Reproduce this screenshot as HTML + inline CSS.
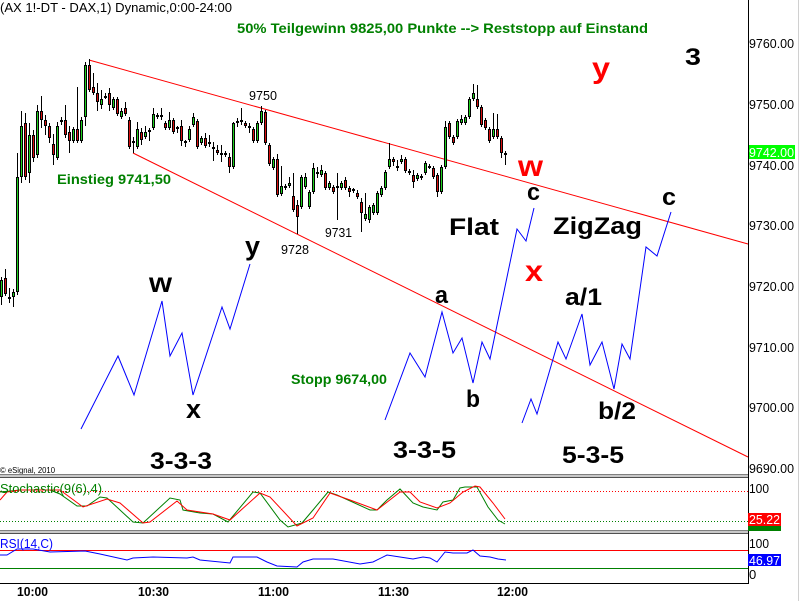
<!DOCTYPE html>
<html>
<head>
<meta charset="utf-8">
<style>
html,body{margin:0;padding:0;background:#fff;}
svg{display:block;}
text{font-family:"Liberation Sans",Arial,sans-serif;}
.b{font-weight:bold;}
</style>
</head>
<body>
<svg id="s" width="799" height="601" viewBox="0 0 799 601" xmlns="http://www.w3.org/2000/svg">
<rect x="0" y="0" width="799" height="601" fill="#fff"/>

<!-- right light border -->
<line x1="798.5" y1="0" x2="798.5" y2="601" stroke="#d0d0d0" stroke-width="1"/>

<!-- title -->
<text x="0" y="12" font-size="13" textLength="232" lengthAdjust="spacingAndGlyphs">(AX 1!-DT - DAX,1) Dynamic,0:00-24:00</text>
<text x="237" y="33" font-size="14" class="b" fill="#008000" textLength="411" lengthAdjust="spacingAndGlyphs">50% Teilgewinn 9825,00 Punkte --&gt; Reststopp auf Einstand</text>

<!-- trend lines -->
<line x1="89" y1="60" x2="748" y2="244" stroke="#ff0000" stroke-width="1"/>
<line x1="133" y1="153" x2="748" y2="457" stroke="#ff0000" stroke-width="1"/>

<g id="candles"></g>

<!-- blue waves -->
<polyline fill="none" stroke="#0000ff" stroke-width="1" points="81,429 118,356 134,395 162,301 170,356 182,333 193,395 222,307 230,329 250,264"/>
<polyline fill="none" stroke="#0000ff" stroke-width="1" points="385,420 410,353 425,377 442,312 453,353 462,338 473,383 482,342 490,359 517,229 526,241 534,208"/>
<polyline fill="none" stroke="#0000ff" stroke-width="1" points="522,423 531,399 537,414 558,342 566,359 582,314 590,365 602,342 614,389 622,344 630,359 646,247 657,256 671,212"/>

<!-- small price labels -->
<text x="249" y="100" font-size="13" textLength="28" lengthAdjust="spacingAndGlyphs">9750</text>
<text x="281" y="254" font-size="13" textLength="28" lengthAdjust="spacingAndGlyphs">9728</text>
<text x="325" y="237" font-size="13" textLength="27" lengthAdjust="spacingAndGlyphs">9731</text>

<text x="57" y="184" font-size="14" class="b" fill="#008000" textLength="114" lengthAdjust="spacingAndGlyphs">Einstieg 9741,50</text>
<text x="291" y="384" font-size="14" class="b" fill="#008000" textLength="96" lengthAdjust="spacingAndGlyphs">Stopp 9674,00</text>

<!-- big labels -->
<text x="685" y="65" font-size="24" class="b" textLength="16" lengthAdjust="spacingAndGlyphs">3</text>
<text x="592" y="78" font-size="30" class="b" fill="#ff0000" textLength="18" lengthAdjust="spacingAndGlyphs">y</text>
<text x="518" y="176" font-size="30" class="b" fill="#ff0000" textLength="25" lengthAdjust="spacingAndGlyphs">w</text>
<text x="525" y="281" font-size="30" class="b" fill="#ff0000" textLength="18" lengthAdjust="spacingAndGlyphs">x</text>
<text x="527" y="200" font-size="24" class="b" textLength="13" lengthAdjust="spacingAndGlyphs">c</text>
<text x="662" y="205" font-size="24" class="b" textLength="14" lengthAdjust="spacingAndGlyphs">c</text>
<text x="449" y="235" font-size="24" class="b" textLength="50" lengthAdjust="spacingAndGlyphs">Flat</text>
<text x="553" y="234" font-size="24" class="b" textLength="89" lengthAdjust="spacingAndGlyphs">ZigZag</text>
<text x="435" y="303" font-size="24" class="b" textLength="13" lengthAdjust="spacingAndGlyphs">a</text>
<text x="466" y="407" font-size="24" class="b" textLength="14" lengthAdjust="spacingAndGlyphs">b</text>
<text x="565" y="305" font-size="24" class="b" textLength="37" lengthAdjust="spacingAndGlyphs">a/1</text>
<text x="598" y="419" font-size="24" class="b" textLength="38" lengthAdjust="spacingAndGlyphs">b/2</text>
<text x="149" y="292" font-size="28" class="b" textLength="23" lengthAdjust="spacingAndGlyphs">w</text>
<text x="186" y="418" font-size="27" class="b" textLength="15" lengthAdjust="spacingAndGlyphs">x</text>
<text x="245" y="255" font-size="27" class="b" textLength="15" lengthAdjust="spacingAndGlyphs">y</text>
<text x="150" y="469" font-size="24" class="b" textLength="62" lengthAdjust="spacingAndGlyphs">3-3-3</text>
<text x="393" y="458" font-size="24" class="b" textLength="63" lengthAdjust="spacingAndGlyphs">3-3-5</text>
<text x="562" y="463" font-size="24" class="b" textLength="62" lengthAdjust="spacingAndGlyphs">5-3-5</text>

<text x="0" y="473" font-size="8" textLength="55" lengthAdjust="spacingAndGlyphs">© eSignal, 2010</text>

<!-- separators -->
<rect x="0" y="474" width="748" height="4" fill="#c8c8c8"/>
<line x1="0" y1="474.5" x2="748" y2="474.5" stroke="#808080"/>
<line x1="0" y1="477.5" x2="748" y2="477.5" stroke="#505050"/>
<rect x="0" y="530" width="748" height="4" fill="#c8c8c8"/>
<line x1="0" y1="530.5" x2="748" y2="530.5" stroke="#808080"/>
<line x1="0" y1="533.5" x2="748" y2="533.5" stroke="#505050"/>

<!-- stochastic panel -->
<line x1="0" y1="491.5" x2="748" y2="491.5" stroke="#ff0000" stroke-width="1" stroke-dasharray="1,2"/>
<line x1="0" y1="521.5" x2="748" y2="521.5" stroke="#008000" stroke-width="1" stroke-dasharray="1,2"/>
<polyline fill="none" stroke="#008000" stroke-width="1" points="0,492 20,490 50,490 60,494 77,506 87,506 100,497 107,498 133,522 143,523 170,498 180,500 183,510 200,513 213,514 228,522 253,492 260,493 280,520 288,527 302,523 313,510 328,492 337,495 370,510 377,510 387,500 400,489 413,503 423,507 437,510 443,502 453,500 460,488 465,487 477,487 488,507 498,520 505,524"/>
<polyline fill="none" stroke="#ff0000" stroke-width="1" points="0,500 7,492 20,490 60,490 83,507 107,499 120,503 143,523 150,522 177,501 187,510 213,514 230,520 260,493 270,497 297,526 313,518 330,493 350,500 377,510 400,492 410,492 420,502 437,508 450,503 463,492 475,486 480,487 493,503 505,519"/>
<text x="0" y="493" font-size="13" fill="#008000" textLength="102" lengthAdjust="spacingAndGlyphs">Stochastic(9(6),4)</text>

<!-- RSI panel -->
<line x1="0" y1="550.5" x2="748" y2="550.5" stroke="#ff0000" stroke-width="1"/>
<line x1="0" y1="568.5" x2="748" y2="568.5" stroke="#008000" stroke-width="1"/>
<polyline fill="none" stroke="#0000ff" stroke-width="1" points="0,555 7,555 17,549 33,549 50,552 85,551 100,554 127,560 133,558 153,557 187,558 193,557 200,560 230,563 233,557 257,557 267,562 277,566 297,567 303,562 313,559 333,559 360,564 373,562 387,555 400,557 413,559 423,557 430,558 437,562 445,552 453,553 467,553 473,550 480,556 490,557 498,559 506,560"/>
<text x="0" y="548" font-size="13" fill="#0000ff" textLength="53" lengthAdjust="spacingAndGlyphs">RSI(14,C)</text>

<!-- axes -->
<line x1="748.5" y1="0" x2="748.5" y2="584" stroke="#000" stroke-width="1"/>
<line x1="0" y1="583.5" x2="749" y2="583.5" stroke="#000" stroke-width="1"/>

<g font-size="13">
<text x="749" y="48" textLength="45" lengthAdjust="spacingAndGlyphs">9760.00</text>
<text x="749" y="109" textLength="45" lengthAdjust="spacingAndGlyphs">9750.00</text>
<text x="749" y="170" textLength="45" lengthAdjust="spacingAndGlyphs">9740.00</text>
<text x="749" y="230" textLength="45" lengthAdjust="spacingAndGlyphs">9730.00</text>
<text x="749" y="291" textLength="45" lengthAdjust="spacingAndGlyphs">9720.00</text>
<text x="749" y="352" textLength="45" lengthAdjust="spacingAndGlyphs">9710.00</text>
<text x="749" y="412" textLength="45" lengthAdjust="spacingAndGlyphs">9700.00</text>
<text x="749" y="473" textLength="45" lengthAdjust="spacingAndGlyphs">9690.00</text>
</g>
<rect x="749" y="145" width="46" height="14" fill="#00ff00"/>
<text x="749" y="157" font-size="13" fill="#fff" textLength="45" lengthAdjust="spacingAndGlyphs">9742.00</text>

<text x="749" y="493" font-size="13" textLength="20" lengthAdjust="spacingAndGlyphs">100</text>
<rect x="748" y="525" width="33" height="6" fill="#008000"/>
<rect x="748" y="513" width="33" height="13" fill="#ff0000"/>
<text x="749" y="524" font-size="13" fill="#fff" textLength="31" lengthAdjust="spacingAndGlyphs">25.22</text>

<text x="749" y="548" font-size="13" textLength="20" lengthAdjust="spacingAndGlyphs">100</text>
<rect x="748" y="554" width="33" height="12" fill="#0000ff"/>
<text x="749" y="565" font-size="13" fill="#fff" textLength="31" lengthAdjust="spacingAndGlyphs">46.97</text>
<text x="749" y="579" font-size="13">0</text>

<g font-size="13" class="b">
<text x="17" y="596" textLength="31" lengthAdjust="spacingAndGlyphs">10:00</text>
<text x="138" y="596" textLength="31" lengthAdjust="spacingAndGlyphs">10:30</text>
<text x="258" y="596" textLength="31" lengthAdjust="spacingAndGlyphs">11:00</text>
<text x="378" y="596" textLength="31" lengthAdjust="spacingAndGlyphs">11:30</text>
<text x="497" y="596" textLength="31" lengthAdjust="spacingAndGlyphs">12:00</text>
</g>
</svg>
<script>
(function(){
var d=[
[280,297,277,305,'g'],[278,294,269,296,'r'],[297,298,288,303,'r'],[292,297,289,307,'g'],[177,292,153,295,'g'],
[126,177,111,183,'g'],[123,177,113,180,'r'],[135,173,123,183,'g'],[135,158,130,162,'r'],[111,155,105,158,'g'],
[111,120,96,128,'r'],[120,126,115,135,'r'],[126,138,123,143,'r'],[144,155,134,165,'r'],[126,158,122,160,'g'],
[120,122,117,125,'g'],[120,135,105,138,'r'],[132,141,126,153,'r'],[129,141,127,143,'g'],[129,141,87,143,'r'],
[120,141,117,143,'g'],[65,117,62,126,'g'],[65,90,59,92,'r'],[87,93,73,95,'r'],[93,102,83,111,'r'],
[99,105,90,109,'g'],[96,97,93,99,'g'],[93,105,88,111,'r'],[99,108,97,110,'g'],[99,114,97,116,'r'],
[111,117,108,119,'g'],[108,114,102,116,'r'],[120,147,117,149,'r'],[141,143,137,153,'r'],[129,147,122,149,'g'],
[132,140,128,145,'r'],[132,137,126,139,'g'],[130,132,128,141,'g'],[114,128,108,130,'g'],[115,117,113,119,'g'],
[115,117,108,120,'g'],[123,128,121,130,'r'],[120,128,112,130,'g'],[120,132,118,134,'r'],[127,129,126,133,'g'],
[126,141,120,146,'r'],[141,143,140,147,'g'],[129,140,126,142,'g'],[117,125,113,127,'g'],[121,147,119,149,'r'],
[138,143,136,145,'g'],[138,146,133,148,'r'],[142,144,135,147,'g'],[147,149,142,161,'g'],[150,153,145,155,'r'],
[153,154,145,162,'r'],[153,155,151,157,'g'],[157,167,153,173,'r'],[123,167,122,169,'g'],[121,123,118,127,'g'],
[120,122,108,125,'g'],[123,126,121,128,'r'],[126,128,123,133,'g'],[129,141,127,143,'r'],[123,141,121,143,'g'],
[111,123,106,125,'g'],[112,143,110,145,'r'],[145,164,143,166,'r'],[159,168,157,170,'g'],[159,195,154,197,'r'],
[186,194,166,196,'g'],[186,188,184,190,'r'],[183,186,177,188,'g'],[196,210,173,212,'r'],[205,217,200,234,'r'],
[177,207,175,209,'g'],[177,187,173,189,'g'],[192,207,190,209,'g'],[168,192,163,194,'g'],[172,174,167,178,'g'],
[170,175,165,177,'g'],[173,188,171,190,'r'],[183,188,181,190,'g'],[187,192,185,194,'r'],[186,188,173,220,'g'],
[183,188,181,190,'g'],[180,188,177,190,'r'],[188,192,186,197,'r'],[189,191,188,193,'g'],[193,197,190,199,'r'],
[202,213,198,232,'r'],[214,219,193,221,'g'],[207,220,205,223,'g'],[205,213,203,215,'g'],[193,213,191,215,'g'],
[188,195,186,197,'g'],[172,188,170,190,'g'],[159,167,143,169,'g'],[159,162,157,166,'r'],[166,168,160,171,'g'],
[159,162,155,164,'g'],[159,171,157,173,'r'],[171,173,169,175,'g'],[175,182,170,188,'r'],[175,179,173,181,'g'],
[176,178,174,180,'g'],[163,173,161,175,'g'],[166,167,164,169,'r'],[168,177,166,179,'r'],[175,192,173,197,'r'],
[167,192,165,194,'g'],[127,167,121,169,'g'],[123,137,121,139,'r'],[137,143,135,145,'r'],[121,137,119,139,'g'],
[119,123,115,125,'g'],[117,123,115,125,'g'],[99,117,97,119,'g'],[93,99,84,101,'g'],[99,107,85,109,'r'],
[107,125,105,127,'r'],[120,128,118,130,'r'],[129,141,127,143,'r'],[129,137,113,139,'g'],[129,137,114,139,'r'],
[138,153,136,158,'r'],[153,155,151,165,'g']
];
var NS='http://www.w3.org/2000/svg';
var g=document.getElementById('candles');
function el(n,a){var e=document.createElementNS(NS,n);for(var k in a)e.setAttribute(k,a[k]);g.appendChild(e);return e;}
for(var i=0;i<d.length;i++){
  var c=d[i],x=4*i,t=c[0],b=c[1],h=c[2],l=c[3];
  el('rect',{x:x+1,y:h,width:1,height:Math.max(l-h,1),fill:'#000'});
  var bh=Math.max(b-t,2);
  el('rect',{x:x,y:t,width:3,height:bh,fill:'#000'});
  if(bh>=3){
    el('rect',{x:x+1,y:t+1,width:1,height:bh-2,fill:(c[4]=='g'?'#1ed01e':'#d81010')});
  }
}
})();
</script>
</body>
</html>
